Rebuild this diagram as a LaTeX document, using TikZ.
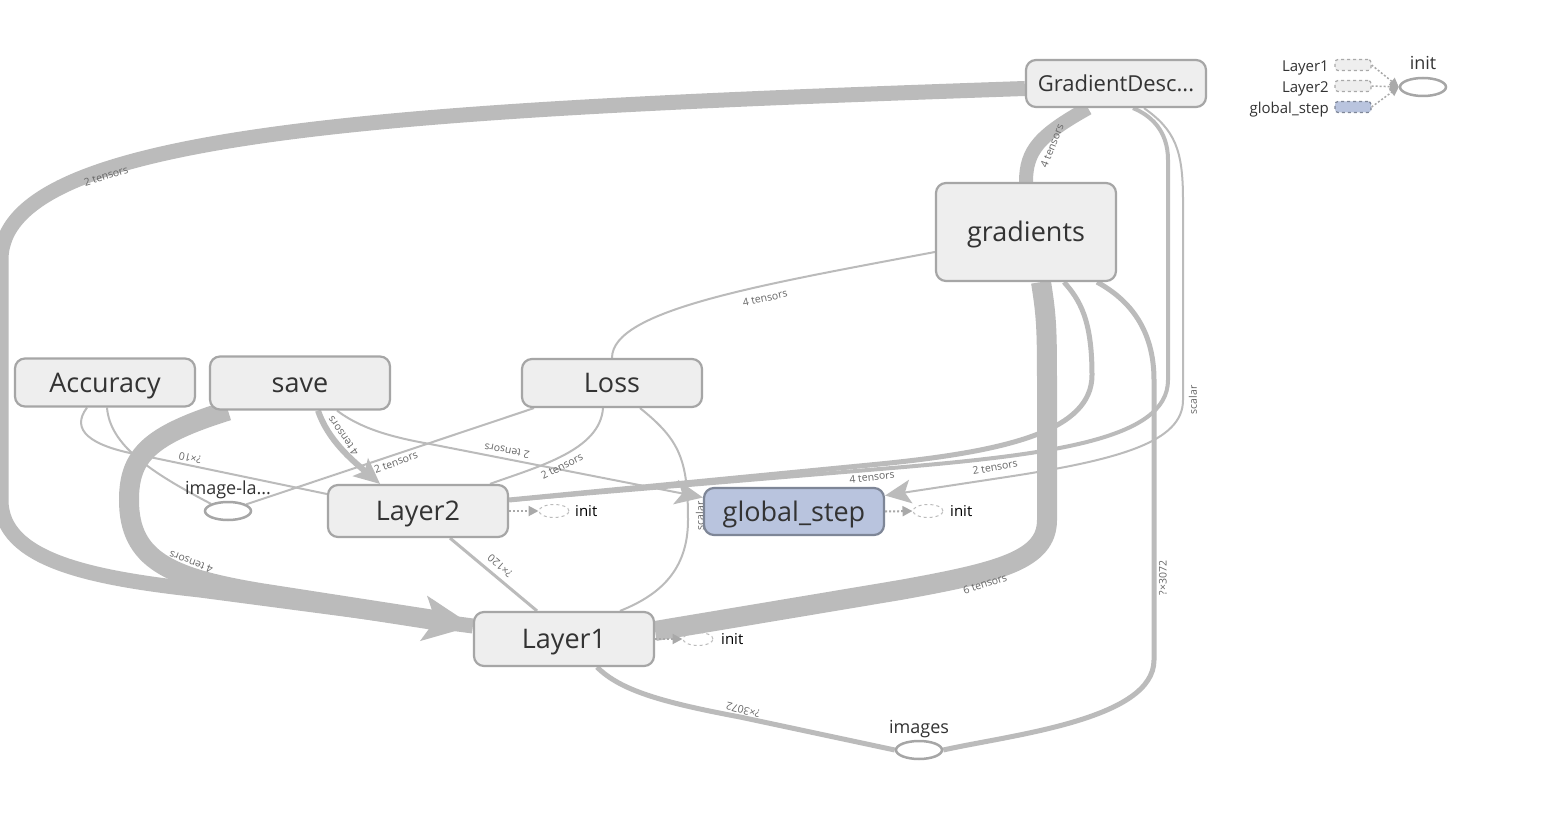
\documentclass[tikz,border=0pt]{standalone}
\usepackage{fontspec}
\setmainfont{Open Sans}
\usepackage{xcolor}
\usepackage{tikz}
\usetikzlibrary{arrows.meta, shapes.geometric, backgrounds}
\definecolor{EdgeGrey}{HTML}{BBBBBB}
\definecolor{NodeFill}{HTML}{EEEEEE}
\definecolor{NodeLine}{HTML}{A6A6A6}
\definecolor{VarFill}{HTML}{B9C4DE}
\definecolor{VarLine}{HTML}{7E8697}
\definecolor{CtrlGrey}{HTML}{A9A9A9}
\definecolor{TextDark}{HTML}{333333}
\definecolor{LabelGrey}{HTML}{666666}
\newcommand{\fsz}[1]{\fontsize{#1}{#1}\selectfont}

\begin{document}
\begin{tikzpicture}[
  x=1pt, y=-1pt,
  opnode/.style={draw=NodeLine, fill=NodeFill, text=TextDark, line width=2.2pt,
                 rounded corners=10pt, minimum width=180pt, inner sep=0pt, font=\fsz{27},
                 text height=19.3pt, text depth=0pt},
  varnode/.style={opnode, draw=VarLine, fill=VarFill},
  inputnode/.style={ellipse, draw=NodeLine, fill=white, line width=2.5pt,
                    minimum width=46pt, minimum height=18pt, inner sep=0pt},
  initnode/.style={ellipse, draw=EdgeGrey, dashed, line width=1pt,
                   minimum width=30pt, minimum height=13pt, inner sep=0pt},
  legbox/.style={draw=CtrlGrey, fill=NodeFill, dashed, line width=1.2pt, rounded corners=3pt,
                 minimum width=36pt, minimum height=11pt, inner sep=0pt},
  nodelbl/.style={font=\fsz{18}, text=TextDark, inner sep=0pt, text height=12.9pt, text depth=0pt},
  initlbl/.style={font=\fsz{15}, text=black, inner sep=0pt, text height=10.7pt, text depth=0pt},
  flow/.style={draw=EdgeGrey, line cap=butt},
  elbl/.style={font=\fsz{10.5}, text=LabelGrey, inner sep=0pt},
  ctrlarr/.style={draw=CtrlGrey, line width=2pt, dash pattern=on 2pt off 2pt,
                  -{Triangle[length=10pt,width=10pt]}},
]
\useasboundingbox (0,0) rectangle (1566,826);

% ===== op nodes =====
  \node[opnode, minimum height=47pt, font=\fsz{22}, text height=15.7pt] (GD) at (1116,83.5) {GradientDesc...};
  \node[opnode, minimum height=98pt] (grads) at (1026,232) {gradients};
  \node[opnode, minimum height=48pt] (acc) at (105,382.5) {Accuracy};
  \node[opnode, minimum height=53pt] (save) at (300,383) {save};
  \node[opnode, minimum height=48pt] (loss) at (612,383) {Loss};
  \node[opnode, minimum height=52pt] (L2) at (418,511) {Layer2};
  \node[varnode, minimum height=47pt] (gstep) at (794,511.5) {global\_step};
  \node[opnode, minimum height=54pt] (L1) at (564,639) {Layer1};

% ===== inputs =====
  \node[inputnode] (imgla) at (228,511) {};
  \node[nodelbl] at (228,488) {image-la...};
  \node[inputnode] (imgs) at (919,750) {};
  \node[nodelbl] at (919,727) {images};

% ===== init nodes =====
  \node[initnode] (L2init) at (554,511) {};
  \node[initlbl, anchor=west] at (575,511) {init};
  \node[initnode] (gsinit) at (928,511) {};
  \node[initlbl, anchor=west] at (950,511) {init};
  \node[initnode] (L1init) at (698,639) {};
  \node[initlbl, anchor=west] at (721,639) {init};
  \draw[ctrlarr] (L2.east) -- (L2init.west);
  \draw[ctrlarr] (gstep.east) -- (gsinit.west);
  \draw[ctrlarr] (L1.east) -- (L1init.west);

% ===== legend =====
  \node[inputnode] (lginit) at (1423,87) {};
  \node[nodelbl] at (1423,63) {init};
  \node[legbox] (lgL1) at (1353,65) {};
  \node[legbox] (lgL2) at (1353,86) {};
  \node[legbox, draw=VarLine, fill=VarFill] (lggs) at (1353,107) {};
  \node[initlbl, text=TextDark, anchor=east] at (1329,66) {Layer1};
  \node[initlbl, text=TextDark, anchor=east] at (1329,87) {Layer2};
  \node[initlbl, text=TextDark, anchor=east] at (1329,108) {global\_step};
  \draw[ctrlarr, line width=1.5pt, -{Triangle[length=9pt,width=9pt]}] (lgL1.east) -- (lginit.west);
  \draw[ctrlarr, line width=1.5pt, -{Triangle[length=9pt,width=9pt]}] (lgL2.east) -- (lginit.west);
  \draw[ctrlarr, line width=1.5pt, -{Triangle[length=9pt,width=9pt]}] (lggs.east) -- (lginit.west);

\begin{scope}[on background layer]
  \fill[white] (0,0) rectangle (1566,826);

% ===== wide edges =====
  \draw[flow, line width=15pt] ([yshift=-5pt]GD.west) .. controls (400,110) and (1,130) .. (1,260)
    -- (1,500) .. controls (1,560) and (90,578) .. (200,590) -- ([yshift=13pt]L1.west);
  \draw[flow, line width=20pt, -{Stealth[length=50pt,width=46pt,inset=12pt,line width=0pt]}]
    ([xshift=-72pt]save.south) .. controls (150,435) and (129,455) .. (129,500)
    .. controls (129,560) and (170,578) .. (260,593) -- ([yshift=13pt]L1.west);
  \draw[flow, line width=14pt] ([xshift=-28pt]GD.south) .. controls (1040,135) and (1026,150) .. (grads.north);
  \draw[flow, line width=20pt] ([xshift=15pt]grads.south) .. controls (1047,320) and (1047,330) .. (1047,400)
    -- (1047,520) .. controls (1047,560) and (1000,572) .. (900,590) -- ([yshift=8pt]L1.east);

% ===== medium edges =====
  \draw[flow, line width=5pt] (imgs.east) .. controls (1010,735) and (1154,720) .. (1154,660)
    -- (1154,380) .. controls (1154,330) and (1130,300) .. ([xshift=71pt]grads.south);
  \draw[flow, line width=5pt] ([xshift=33pt]L1.south) .. controls (620,690) and (660,702) .. (740,717) -- (imgs.west);
  \draw[flow, line width=5pt] ([yshift=11pt]L2.east) -- (880,464) .. controls (1010,451) and (1092,430) .. (1092,375)
    .. controls (1092,320) and (1080,300) .. ([xshift=38pt]grads.south);
  \draw[flow, line width=4pt] ([yshift=11pt]L2.east) -- (880,469) .. controls (1050,455) and (1168,440) .. (1168,380)
    -- (1168,160) .. controls (1168,130) and (1150,115) .. ([xshift=17pt]GD.south);
  \draw[flow, line width=6pt, -{Stealth[length=26pt,width=24pt,inset=6pt,line width=0pt]}]
    ([xshift=18pt]save.south) .. controls (328,440) and (352,460) .. ([xshift=-38pt]L2.north);
  \draw[flow, line width=3pt] ([xshift=32pt]L2.south) -- ([xshift=-27pt]L1.north);

% ===== thin edges =====
  \draw[flow, line width=2pt, -{Stealth[length=28pt,width=25pt,inset=7pt,line width=0pt]}]
    ([xshift=37pt]save.south) .. controls (360,428) and (390,437) .. (430,444) -- ([yshift=14pt]gstep.west);
  \draw[flow, line width=2pt, -{Stealth[length=26pt,width=24pt,inset=6pt,line width=0pt]}]
    ([xshift=28pt]GD.south) .. controls (1175,130) and (1183,150) .. (1183,200) -- (1183,400)
    .. controls (1183,442) and (1120,460) .. (1000,478) -- ([yshift=16pt]gstep.east);
  \draw[flow, line width=2pt] ([xshift=28pt]loss.south) .. controls (680,440) and (688,460) .. (688,520)
    .. controls (688,570) and (660,595) .. ([xshift=56pt]L1.north);
  \draw[flow, line width=2pt] ([xshift=-9pt]loss.south) .. controls (600,450) and (540,466) .. ([xshift=72pt]L2.north);
  \draw[flow, line width=2pt] ([xshift=-78pt]loss.south) -- (imgla.20);
  \draw[flow, line width=2pt] ([yshift=-20pt]grads.west) .. controls (760,285) and (612,310) .. (loss.north);
  \draw[flow, line width=2pt] ([xshift=-18pt]acc.south) .. controls (70,430) and (90,446) .. (140,455)
    -- ([yshift=17pt]L2.west);
  \draw[flow, line width=2pt] ([xshift=2pt]acc.south) .. controls (110,445) and (150,472) .. (imgla.north west);

% ===== edge labels =====
  \node[elbl, rotate=17] at (106,176) {2 tensors};
  \node[elbl, rotate=68] at (1052,146) {4 tensors};
  \node[elbl, rotate=12] at (765,298) {4 tensors};
  \node[elbl, rotate=160] at (191,562) {4 tensors};
  \node[elbl, rotate=125] at (343,436) {4 tensors};
  \node[elbl, rotate=20] at (396,462) {2 tensors};
  \node[elbl, rotate=170] at (507,451) {2 tensors};
  \node[elbl, rotate=27] at (562,466) {2 tensors};
  \node[elbl, rotate=168] at (190,458) {?×10};
  \node[elbl, rotate=139] at (500,566) {?×120};
  \node[elbl, rotate=6] at (872,477) {4 tensors};
  \node[elbl, rotate=10] at (995,467) {2 tensors};
  \node[elbl, rotate=90] at (1193,400) {scalar};
  \node[elbl, rotate=90] at (700,516) {scalar};
  \node[elbl, rotate=18] at (985,584) {6 tensors};
  \node[elbl, rotate=90] at (1163,578) {?×3072};
  \node[elbl, rotate=165] at (743,710) {?×3072};
\end{scope}

\end{tikzpicture}
\end{document}
